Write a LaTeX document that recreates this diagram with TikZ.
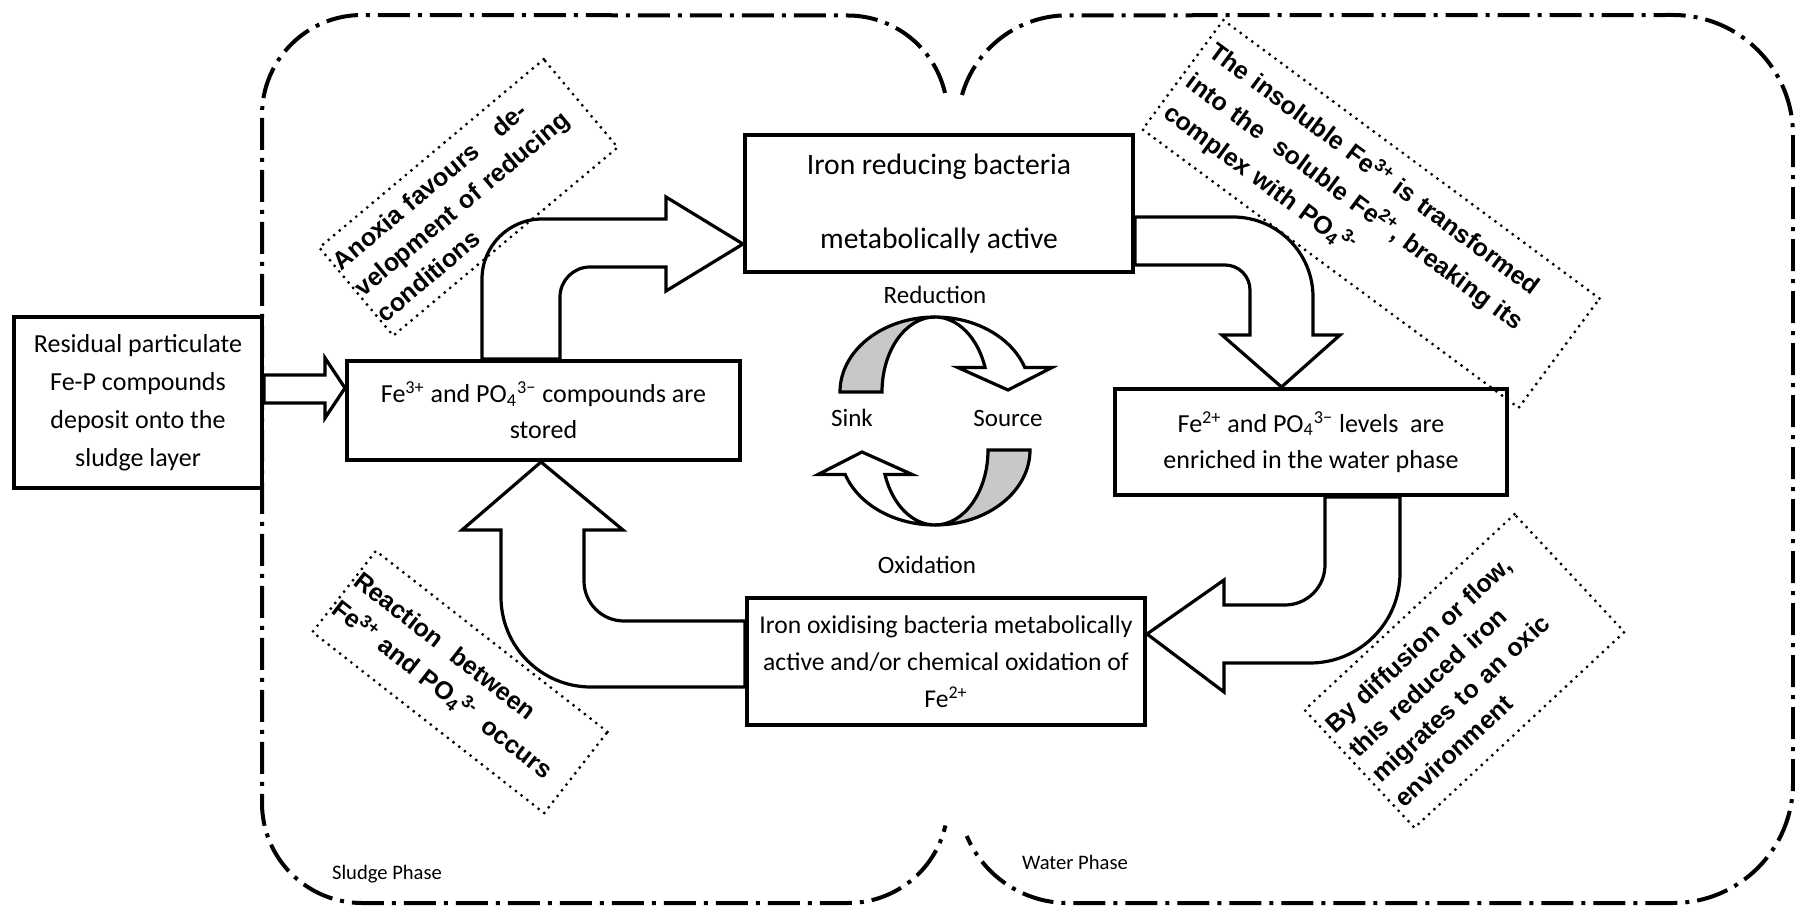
\documentclass[tikz,border=0pt]{standalone}
\usepackage{fontspec}
\setmainfont{Carlito}
\newfontfamily\notefont{Liberation Sans}
\usepackage{tikz}
\usetikzlibrary{positioning,backgrounds}
\definecolor{bandgray}{RGB}{200,200,200}
\newcommand{\phos}[1]{PO\textsubscript{4}\textsuperscript{3#1}}
\hyphenpenalty=10000

\begin{document}
\begin{tikzpicture}[x=0.5pt, y=-0.5pt, line join=miter]
  \tikzstyle{box} = [rectangle, draw, fill=white, line width=2pt, inner sep=0pt, align=center, font=\fontsize{13}{18}\selectfont]
  \tikzstyle{note} = [rectangle, draw, line width=1.6pt, line cap=round, dash pattern=on 0pt off 3.6pt, inner xsep=1pt, inner ysep=3pt, align=left, font=\notefont\bfseries\fontsize{12.5}{17}\selectfont]
  \tikzstyle{bigarrow} = [draw, fill=white, line width=1.6pt]
  \tikzstyle{band} = [draw, line width=1.6pt]
  \tikzstyle{phase} = [line width=2pt, dash pattern=on 16pt off 4pt on 2pt off 4pt]
  \tikzstyle{cycletext} = [inner sep=0pt, font=\fontsize{12.5}{15}\selectfont]
  \tikzstyle{phasetext} = [inner sep=0pt, font=\fontsize{10.3}{12}\selectfont]

  \useasboundingbox (0,0) rectangle (1795,909);

  \node[box, minimum width=124pt, minimum height=85.5pt, font=\fontsize{13}{19}\selectfont] (resid) at (138,402.5) {Residual particulate\\Fe-P compounds\\deposit onto the\\sludge layer};
  \node[box, minimum width=196.5pt, minimum height=49.5pt] (stored) at (543.5,410.5) {Fe\textsuperscript{3+} and \phos{−} compounds are\\stored};
  \node[box, minimum width=194pt, minimum height=68.5pt, font=\fontsize{14.8}{37}\selectfont] (ireduce) at (939,203.5) {Iron reducing bacteria\\metabolically active};
  \node[box, minimum width=196pt, minimum height=53pt] (enrich) at (1311,442) {Fe\textsuperscript{2+} and \phos{−} levels\ \ are\\enriched in the water phase};
  \node[box, minimum width=199pt, minimum height=63.5pt, font=\fontsize{12.8}{18.5}\selectfont] (ioxid) at (946,661.5) {Iron oxidising bacteria metabolically\\active and/or chemical oxidation of\\Fe\textsuperscript{2+}};

  \node[note, rotate=40, minimum width=146.5pt, minimum height=57.5pt, text width=144.5pt] (anoxia) at (468.5,197.5) {Anoxia favours\hspace{1em}de-\\velopment of reducing\\conditions};
  \node[note, rotate=-36.5, minimum width=234pt, minimum height=68pt, text width=226pt, font=\notefont\bfseries\fontsize{12.5}{19}\selectfont] (insoluble) at (1371,214) {The insoluble Fe\textsuperscript{3+} is transformed\\into the\ \ soluble Fe\textsuperscript{2+}, breaking its\\complex with \phos{-}};
  \node[note, rotate=-38, minimum width=147pt, minimum height=51.5pt, text width=145pt, font=\notefont\bfseries\fontsize{12.5}{18}\selectfont] (reaction) at (460,682) {Reaction\ \ between\\\mbox{Fe\textsuperscript{3+} and \phos{-}\hspace{0.6em}occurs}};
  \node[note, rotate=43, minimum width=143.5pt, minimum height=80.5pt, text width=137.5pt] (diffusion) at (1464.5,671) {By diffusion or flow,\\this reduced iron\\migrates to an oxic\\environment};

  \node[cycletext] (reduction) at (935,295) {Reduction};
  \node[cycletext] (sink) at (852,418) {Sink};
  \node[cycletext] (source) at (1008,418) {Source};
  \node[cycletext] (oxidation) at (927,565) {Oxidation};
  \node[phasetext] (sludge) at (387,874) {Sludge Phase};
  \node[phasetext] (water) at (1075,862) {Water Phase};

  \filldraw[band, fill=bandgray] (840,392) arc[start angle=180, end angle=270, x radius=95, y radius=75] arc[start angle=270, end angle=180, x radius=53, y radius=75] -- cycle;
  \filldraw[band, fill=white] (935,317) arc[start angle=270, end angle=341, x radius=95, y radius=75] -- ++(27,0) -- (1008,390) -- (958,367.6) -- (985.1,367.6) arc[start angle=341, end angle=270, x radius=53, y radius=75] -- cycle;
  \begin{scope}[rotate around={180:(935,421)}]
    \filldraw[band, fill=bandgray] (840,392) arc[start angle=180, end angle=270, x radius=95, y radius=75] arc[start angle=270, end angle=180, x radius=53, y radius=75] -- cycle;
    \filldraw[band, fill=white] (935,317) arc[start angle=270, end angle=341, x radius=95, y radius=75] -- ++(27,0) -- (1008,390) -- (958,367.6) -- (985.1,367.6) arc[start angle=341, end angle=270, x radius=53, y radius=75] -- cycle;
  \end{scope}

  \begin{scope}[on background layer]
    \fill[white] (0,0) rectangle (1795,909);
    \draw[phase] (945,93) arc[start angle=347, end angle=270, radius=100] -- (362,15) arc[start angle=270, end angle=180, radius=100] -- (262,803) arc[start angle=180, end angle=90, radius=100] -- (848,903) arc[start angle=90, end angle=13, radius=100];
    \draw[phase] (962,95) arc[start angle=196, end angle=270, radius=110] -- (1673,15) arc[start angle=270, end angle=360, radius=120] -- (1793,783) arc[start angle=0, end angle=90, radius=120] -- (1068,903) arc[start angle=90, end angle=157, radius=110];

    \filldraw[bigarrow] (resid.east |- 0,375) -- (325,375) -- (325,358) -- (stored.west |- 0,388) -- (325,418) -- (325,403) -- (resid.east |- 0,403) -- cycle;
    \filldraw[bigarrow] (482,0 |- stored.north) -- (482,279) arc[start angle=180, end angle=270, radius=60] -- (666,219) -- (666,197) -- (ireduce.west |- 0,244) -- (666,291) -- (666,267) -- (590,267) arc[start angle=270, end angle=180, radius=30] -- (560,0 |- stored.north) -- cycle;
    \filldraw[bigarrow] (ireduce.east |- 0,217) -- (1233,217) arc[start angle=270, end angle=360, radius=80] -- (1313,335) -- (1340,335) -- (1281.5,0 |- enrich.north) -- (1222,335) -- (1250,335) -- (1250,290) arc[start angle=0, end angle=-90, radius=25] -- (ireduce.east |- 0,265) -- cycle;
    \filldraw[bigarrow] (1325,0 |- enrich.south) -- (1325,565) arc[start angle=0, end angle=90, radius=40] -- (1224,605) -- (1224,580) -- (ioxid.east |- 0,634) -- (1224,692) -- (1224,663) -- (1310,663) arc[start angle=90, end angle=0, radius=90] -- (1400,0 |- enrich.south) -- cycle;
    \filldraw[bigarrow] (ioxid.west |- 0,621) -- (624,621) arc[start angle=90, end angle=180, radius=40] -- (584,530) -- (623,530) -- (541,0 |- stored.south) -- (462,530) -- (501,530) -- (501,597) arc[start angle=180, end angle=90, radius=90] -- (ioxid.west |- 0,687) -- cycle;
  \end{scope}
\end{tikzpicture}
\end{document}
